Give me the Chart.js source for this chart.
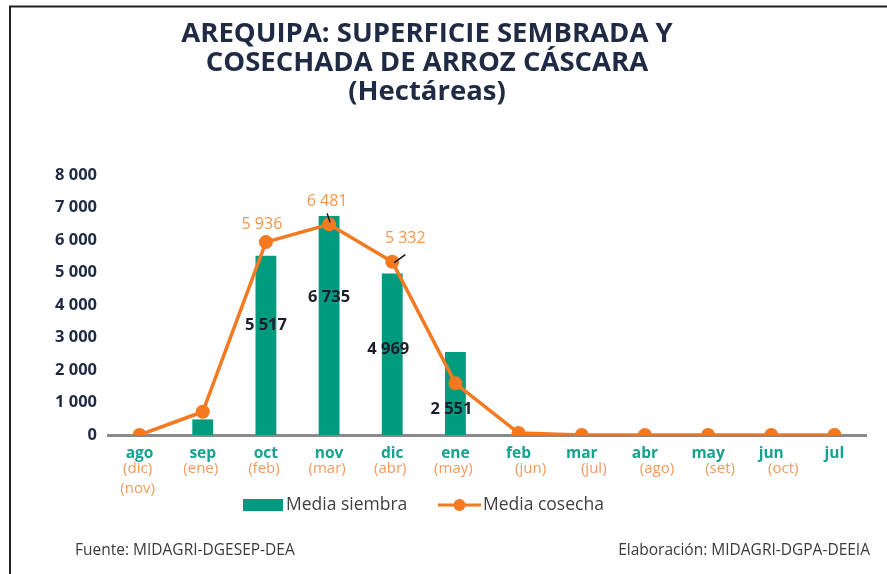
<!DOCTYPE html>
<html lang="es">
<head>
<meta charset="utf-8">
<title>Arequipa: superficie sembrada y cosechada de arroz cáscara</title>
<script src="https://cdn.jsdelivr.net/npm/chart.js@4.4.0/dist/chart.umd.min.js"></script>
<style>
  html, body { margin: 0; padding: 0; background: #fff; }
  #grafico { display: block; }
</style>
</head>
<body>
<canvas id="grafico" width="887" height="574"></canvas>
<script>
// datos
const meses = ['ago', 'sep', 'oct', 'nov', 'dic', 'ene', 'feb', 'mar', 'abr', 'may', 'jun', 'jul'];
const mesesCosecha = [['(dic)', '(nov)'], ['(ene)'], ['(feb)'], ['(mar)'], ['(abr)'], ['(may)'], ['(jun)'], ['(jul)'], ['(ago)'], ['(set)'], ['(oct)'], []];
const mediaSiembra = [0, 480, 5517, 6735, 4969, 2551, 0, 0, 0, 0, 0, 0];
const mediaCosecha = [0, 715, 5936, 6481, 5332, 1590, 60, 0, 0, 0, 0, 0];
const ticksEjeY = [0, 1000, 2000, 3000, 4000, 5000, 6000, 7000, 8000];
const titulo = ['AREQUIPA: SUPERFICIE SEMBRADA Y', 'COSECHADA DE ARROZ CÁSCARA', '(Hectáreas)'];
const fuente = 'Fuente: MIDAGRI-DGESEP-DEA';
const elaboracion = 'Elaboración: MIDAGRI-DGPA-DEEIA';

const colorBarra = '#009B7F';
const colorLinea = '#F47920';
const colorEtiquetaLinea = '#F7964A';
const colorMes = '#17A290';
const colorMesCosecha = '#F29A5E';
const colorTexto = '#1F2A44';
const familia = "'Open Sans', sans-serif";

function formatear(v) {
  return String(Math.round(v)).replace(/\B(?=(\d{3})+(?!\d))/g, ' ');
}

// marco, titulo y pie de pagina
const textosFijos = {
  id: 'textosFijos',
  beforeDraw(chart) {
    const ctx = chart.ctx;
    ctx.save();
    ctx.fillStyle = '#fff';
    ctx.fillRect(0, 0, chart.width, chart.height);
    ctx.strokeStyle = '#222';
    ctx.lineWidth = 2;
    ctx.beginPath();
    ctx.moveTo(chart.width, 6.5);
    ctx.lineTo(10, 6.5);
    ctx.lineTo(10, chart.height);
    ctx.stroke();

    ctx.fillStyle = colorTexto;
    ctx.font = 'bold 27.5px ' + familia;
    ctx.textAlign = 'center';
    ctx.textBaseline = 'middle';
    titulo.forEach((t, i) => ctx.fillText(t, 427, 34 + i * 29));

    ctx.font = '15.5px ' + familia;
    ctx.fillStyle = '#3a3a3a';
    ctx.textAlign = 'left';
    ctx.fillText(fuente, 75, 551);
    ctx.textAlign = 'right';
    ctx.fillText(elaboracion, 870, 551);
    ctx.restore();
  }
};

// meses de cosecha bajo el eje y leyenda
const ejeYLeyenda = {
  id: 'ejeYLeyenda',
  afterDraw(chart) {
    const ctx = chart.ctx;
    const x = chart.scales.x;
    const base = chart.chartArea.bottom;
    ctx.save();
    ctx.font = '15px ' + familia;
    ctx.fillStyle = colorMesCosecha;
    ctx.textAlign = 'center';
    ctx.textBaseline = 'middle';
    mesesCosecha.forEach((lineas, i) => {
      const px = x.getPixelForValue(i) + (i >= 6 ? 12 : -2);
      lineas.forEach((t, j) => ctx.fillText(t, px, base + 34 + j * 20));
    });

    // leyenda
    const yl = 505;
    const ds = chart.data.datasets;
    const barra = ds.find(d => d.type === 'bar');
    const linea = ds.find(d => d.type === 'line');
    ctx.fillStyle = barra.backgroundColor;
    ctx.fillRect(243, yl - 6, 40, 12);
    ctx.strokeStyle = linea.borderColor;
    ctx.lineWidth = 3;
    ctx.beginPath();
    ctx.moveTo(438, yl);
    ctx.lineTo(481, yl);
    ctx.stroke();
    ctx.fillStyle = linea.backgroundColor;
    ctx.beginPath();
    ctx.arc(459.5, yl, 6, 0, Math.PI * 2);
    ctx.fill();
    ctx.font = '17.5px ' + familia;
    ctx.fillStyle = '#404040';
    ctx.textAlign = 'left';
    ctx.fillText(barra.label, 286, yl);
    ctx.fillText(linea.label, 483, yl);
    ctx.restore();
  }
};

// etiquetas de valores
const etiquetasDatos = {
  id: 'etiquetasDatos',
  afterDatasetsDraw(chart, args, opts) {
    const ctx = chart.ctx;
    ctx.save();
    ctx.textAlign = 'center';
    ctx.textBaseline = 'middle';

    const metaBarra = chart.getDatasetMeta(1);
    ctx.font = 'bold 16.5px ' + familia;
    ctx.fillStyle = '#1d1d2b';
    metaBarra.data.forEach((bar, i) => {
      const v = mediaSiembra[i];
      if (v < opts.minimo) return;
      const d = opts.barra[i] || [0, 0];
      ctx.fillText(formatear(v), bar.x + d[0], (bar.y + bar.base) / 2 + d[1]);
    });

    const metaLinea = chart.getDatasetMeta(0);
    ctx.font = '16px ' + familia;
    ctx.fillStyle = colorEtiquetaLinea;
    metaLinea.data.forEach((p, i) => {
      const v = mediaCosecha[i];
      if (!opts.linea[i]) return;
      const d = opts.linea[i];
      ctx.fillText(formatear(v), p.x + d[0], p.y + d[1]);
    });

    // lineas guia
    ctx.strokeStyle = '#111';
    ctx.lineWidth = 1.5;
    opts.guias.forEach(g => {
      const p = metaLinea.data[g.i];
      ctx.beginPath();
      ctx.moveTo(p.x + g.desde[0], p.y + g.desde[1]);
      ctx.lineTo(p.x + g.hasta[0], p.y + g.hasta[1]);
      ctx.stroke();
    });
    ctx.restore();
  }
};

Chart.defaults.font.family = familia;

new Chart(document.getElementById('grafico'), {
  data: {
    labels: meses,
    datasets: [{
      type: 'line',
      label: 'Media cosecha',
      data: mediaCosecha,
      borderColor: colorLinea,
      backgroundColor: colorLinea,
      borderWidth: 3.5,
      pointRadius: 7,
      pointHoverRadius: 7,
      pointBorderWidth: 0,
      tension: 0,
      order: 0
    }, {
      type: 'bar',
      label: 'Media siembra',
      data: mediaSiembra,
      backgroundColor: colorBarra,
      borderWidth: 0,
      barPercentage: 0.33,
      categoryPercentage: 1,
      order: 1
    }]
  },
  options: {
    responsive: false,
    animation: false,
    layout: {
      padding: { top: 175, right: 21, left: 0, bottom: 0 }
    },
    plugins: {
      legend: { display: false },
      tooltip: { enabled: false },
      etiquetasDatos: {
        minimo: 2000,
        barra: [null, null, [0, -20], [0, -28], [-4, -5], [-4, 16]],
        linea: [null, null, [-4, -18], [-2, -23], [13, -23]],
        guias: [
          { i: 3, desde: [1, -2], hasta: [-2, -11] },
          { i: 4, desde: [2, 1], hasta: [13, -7] }
        ]
      }
    },
    scales: {
      x: {
        offset: true,
        grid: { display: false, drawTicks: false },
        border: { display: true, color: '#8a8a8a', width: 3 },
        ticks: {
          color: colorMes,
          font: { size: 15.5, weight: 'bold' },
          padding: 9,
          maxRotation: 0
        },
        afterFit(scale) { scale.height = 139; }
      },
      y: {
        min: 0,
        max: 8000,
        grid: { display: false, drawTicks: false },
        border: { display: false },
        afterBuildTicks(scale) { scale.ticks = ticksEjeY.map(v => ({ value: v })); },
        ticks: {
          color: colorTexto,
          font: { size: 16.5, weight: 'bold' },
          padding: 11,
          callback: v => formatear(v)
        },
        afterFit(scale) { scale.width = 108; }
      }
    }
  },
  plugins: [textosFijos, ejeYLeyenda, etiquetasDatos]
});
</script>
</body>
</html>
